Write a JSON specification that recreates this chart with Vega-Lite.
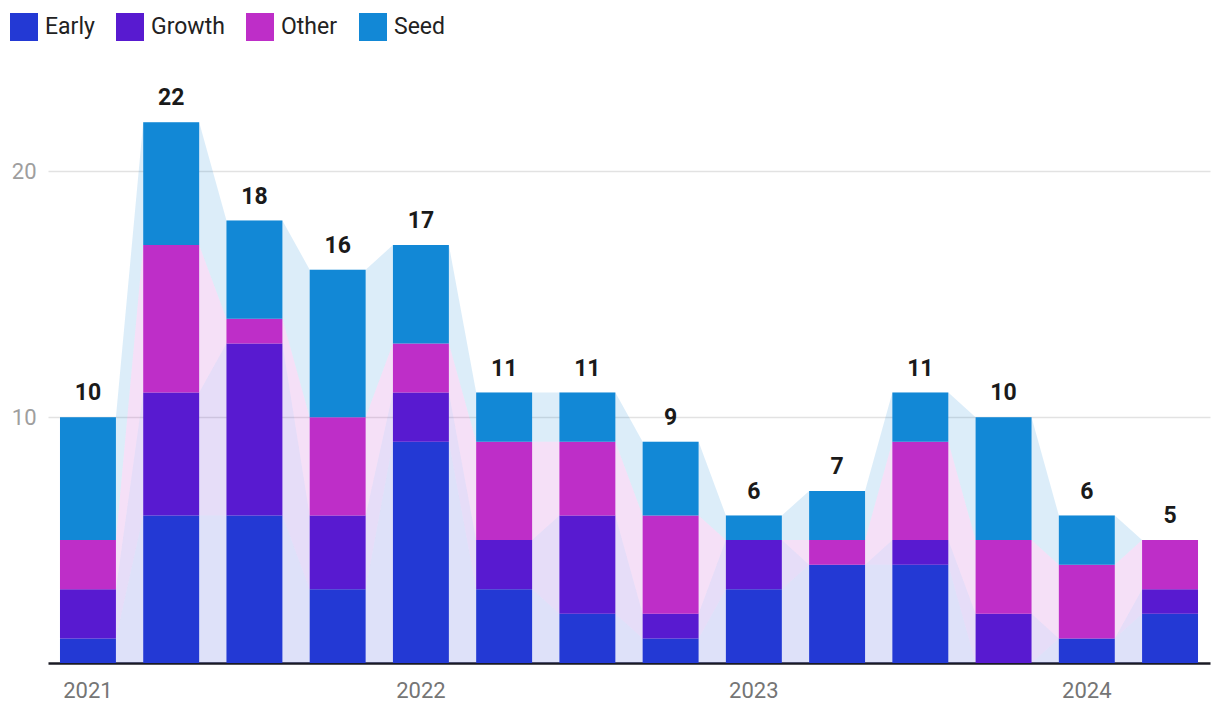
{
  "$schema": "https://vega.github.io/schema/vega-lite/v6.json",
  "width": 1162,
  "height": 590,
  "autosize": "none",
  "padding": {"left": 48, "top": 73, "right": 10, "bottom": 59},
  "config": {
    "font": "Roboto",
    "view": {"stroke": null},
    "axisX": {"domainColor": "#1a1a24", "domainWidth": 2.5, "ticks": false, "labelAngle": 0, "labelFontSize": 22, "labelColor": "#757575", "labelPadding": 17, "grid": false, "zindex": 1},
    "axisY": {"domain": false, "ticks": false, "labelFontSize": 22, "labelColor": "#9e9e9e", "labelPadding": 12, "gridColor": "#e2e2e2", "gridWidth": 1.5}
  },
  "data": {"values": [
    {"q": "2021 Q1", "series": "Early", "value": 1}, {"q": "2021 Q1", "series": "Growth", "value": 2}, {"q": "2021 Q1", "series": "Other", "value": 2}, {"q": "2021 Q1", "series": "Seed", "value": 5},
    {"q": "2021 Q2", "series": "Early", "value": 6}, {"q": "2021 Q2", "series": "Growth", "value": 5}, {"q": "2021 Q2", "series": "Other", "value": 6}, {"q": "2021 Q2", "series": "Seed", "value": 5},
    {"q": "2021 Q3", "series": "Early", "value": 6}, {"q": "2021 Q3", "series": "Growth", "value": 7}, {"q": "2021 Q3", "series": "Other", "value": 1}, {"q": "2021 Q3", "series": "Seed", "value": 4},
    {"q": "2021 Q4", "series": "Early", "value": 3}, {"q": "2021 Q4", "series": "Growth", "value": 3}, {"q": "2021 Q4", "series": "Other", "value": 4}, {"q": "2021 Q4", "series": "Seed", "value": 6},
    {"q": "2022 Q1", "series": "Early", "value": 9}, {"q": "2022 Q1", "series": "Growth", "value": 2}, {"q": "2022 Q1", "series": "Other", "value": 2}, {"q": "2022 Q1", "series": "Seed", "value": 4},
    {"q": "2022 Q2", "series": "Early", "value": 3}, {"q": "2022 Q2", "series": "Growth", "value": 2}, {"q": "2022 Q2", "series": "Other", "value": 4}, {"q": "2022 Q2", "series": "Seed", "value": 2},
    {"q": "2022 Q3", "series": "Early", "value": 2}, {"q": "2022 Q3", "series": "Growth", "value": 4}, {"q": "2022 Q3", "series": "Other", "value": 3}, {"q": "2022 Q3", "series": "Seed", "value": 2},
    {"q": "2022 Q4", "series": "Early", "value": 1}, {"q": "2022 Q4", "series": "Growth", "value": 1}, {"q": "2022 Q4", "series": "Other", "value": 4}, {"q": "2022 Q4", "series": "Seed", "value": 3},
    {"q": "2023 Q1", "series": "Early", "value": 3}, {"q": "2023 Q1", "series": "Growth", "value": 2}, {"q": "2023 Q1", "series": "Other", "value": 0}, {"q": "2023 Q1", "series": "Seed", "value": 1},
    {"q": "2023 Q2", "series": "Early", "value": 4}, {"q": "2023 Q2", "series": "Growth", "value": 0}, {"q": "2023 Q2", "series": "Other", "value": 1}, {"q": "2023 Q2", "series": "Seed", "value": 2},
    {"q": "2023 Q3", "series": "Early", "value": 4}, {"q": "2023 Q3", "series": "Growth", "value": 1}, {"q": "2023 Q3", "series": "Other", "value": 4}, {"q": "2023 Q3", "series": "Seed", "value": 2},
    {"q": "2023 Q4", "series": "Early", "value": 0}, {"q": "2023 Q4", "series": "Growth", "value": 2}, {"q": "2023 Q4", "series": "Other", "value": 3}, {"q": "2023 Q4", "series": "Seed", "value": 5},
    {"q": "2024 Q1", "series": "Early", "value": 1}, {"q": "2024 Q1", "series": "Growth", "value": 0}, {"q": "2024 Q1", "series": "Other", "value": 3}, {"q": "2024 Q1", "series": "Seed", "value": 2},
    {"q": "2024 Q2", "series": "Early", "value": 2}, {"q": "2024 Q2", "series": "Growth", "value": 1}, {"q": "2024 Q2", "series": "Other", "value": 2}, {"q": "2024 Q2", "series": "Seed", "value": 0}
  ]},
  "layer": [
    {
      "transform": [
        {"stack": "value", "groupby": ["q"], "sort": [{"field": "series", "order": "ascending"}], "as": ["y0", "y1"]},
        {"fold": ["y0", "y1"], "as": ["edge", "edgeValue"]}
      ],
      "mark": {"type": "area", "opacity": 0.15, "interpolate": "linear"},
      "encoding": {
        "x": {"field": "q", "type": "ordinal", "bandPosition": 0, "title": null, "scale": {"paddingInner": 0.328, "paddingOuter": 0.144}, "axis": {"labelExpr": "indexof(datum.value, 'Q1') >= 0 ? slice(datum.value, 0, 4) : ''"}},
        "xOffset": {"field": "edge", "type": "nominal", "scale": {"type": "point", "padding": 0, "domain": ["y0", "y1"]}},
        "y": {"field": "y1", "type": "quantitative", "title": null, "scale": {"domain": [0, 24], "nice": false}, "axis": {"values": [10, 20]}},
        "y2": {"field": "y0"},
        "color": {"field": "series", "type": "nominal", "legend": null, "scale": {"domain": ["Early", "Growth", "Other", "Seed"], "range": ["#2339d4", "#581ad0", "#be2ec8", "#1288d6"]}},
        "order": [{"field": "q"}, {"field": "edge"}]
      }
    },
    {
      "transform": [
        {"stack": "value", "groupby": ["q"], "sort": [{"field": "series", "order": "ascending"}], "as": ["y0", "y1"]}
      ],
      "mark": {"type": "bar", "width": {"band": 1}},
      "encoding": {
        "x": {"field": "q", "type": "ordinal", "title": null},
        "y": {"field": "y1", "type": "quantitative", "title": null},
        "y2": {"field": "y0"},
        "color": {
          "field": "series", "type": "nominal",
          "scale": {"domain": ["Early", "Growth", "Other", "Seed"], "range": ["#2339d4", "#581ad0", "#be2ec8", "#1288d6"]},
          "legend": {"title": null, "orient": "none", "legendX": -38, "legendY": -60, "direction": "horizontal", "columns": 4, "columnPadding": 21, "labelOffset": 7, "labelFontSize": 23, "labelColor": "#222222", "symbolType": "square", "symbolSize": 784, "symbolStrokeWidth": 0, "symbolOpacity": 1, "padding": 0}
        }
      }
    },
    {
      "transform": [
        {"aggregate": [{"op": "sum", "field": "value", "as": "y1"}], "groupby": ["q"]}
      ],
      "mark": {"type": "text", "fontSize": 23, "fontWeight": "bold", "color": "#1a1a1a", "baseline": "alphabetic", "dy": -17},
      "encoding": {
        "x": {"field": "q", "type": "ordinal", "title": null},
        "y": {"field": "y1", "type": "quantitative", "title": null},
        "text": {"field": "y1", "type": "quantitative"}
      }
    }
  ],
  "resolve": {"scale": {"xOffset": "independent", "color": "independent"}}
}
